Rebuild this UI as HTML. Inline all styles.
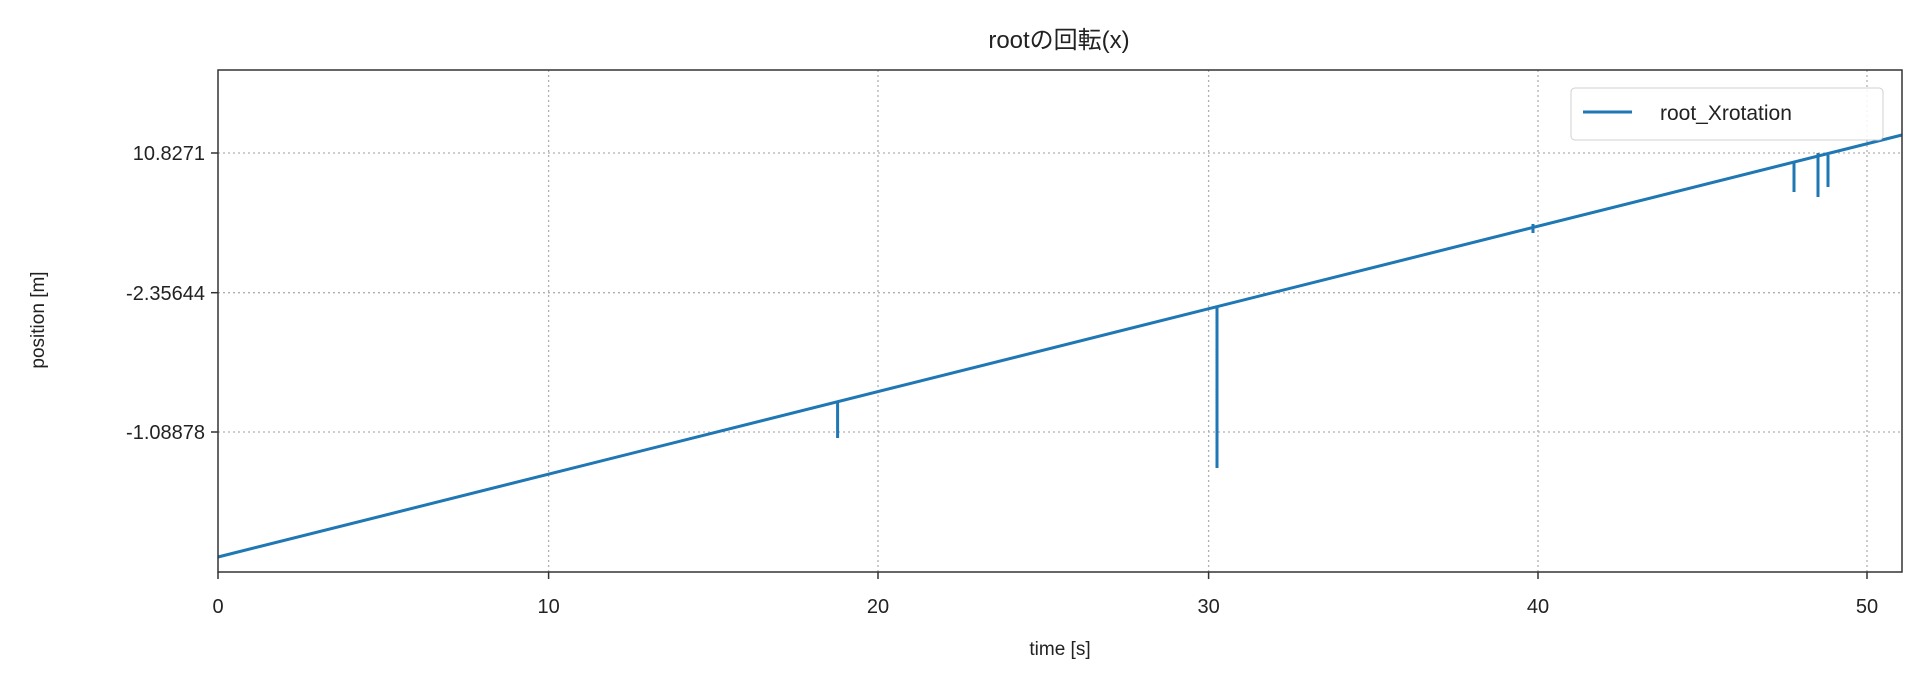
<!DOCTYPE html>
<html><head><meta charset="utf-8"><style>body{margin:0;background:#fff}</style></head><body>
<svg width="1920" height="683" xmlns="http://www.w3.org/2000/svg" font-family="Liberation Sans, Noto Sans CJK JP, sans-serif" fill="#222">
<rect width="1920" height="683" fill="#fff"/>
<g stroke="#b0b0b0" stroke-width="1.3" stroke-dasharray="2,3">
<line x1="548.6" y1="70" x2="548.6" y2="572"/><line x1="878" y1="70" x2="878" y2="572"/><line x1="1208.6" y1="70" x2="1208.6" y2="572"/><line x1="1538" y1="70" x2="1538" y2="572"/><line x1="1867" y1="70" x2="1867" y2="572"/>
<line x1="218" y1="153" x2="1902" y2="153"/><line x1="218" y1="292.7" x2="1902" y2="292.7"/><line x1="218" y1="432" x2="1902" y2="432"/>
</g>
<g stroke="#1f77b4" stroke-width="3" fill="none">
<line x1="218" y1="557" x2="1902" y2="135"/>
<line x1="837.6" y1="402" x2="837.6" y2="438"/>
<line x1="1217" y1="307" x2="1217" y2="468"/>
<line x1="1533" y1="224" x2="1533" y2="233"/>
<line x1="1794" y1="163" x2="1794" y2="192"/>
<line x1="1818" y1="153" x2="1818" y2="197"/>
<line x1="1828" y1="155" x2="1828" y2="187"/>
</g>
<rect x="218" y="70" width="1684" height="502" fill="none" stroke="#333" stroke-width="1.5"/>
<g stroke="#333" stroke-width="1.5">
<line x1="218" y1="572" x2="218" y2="579"/><line x1="548.6" y1="572" x2="548.6" y2="579"/><line x1="878" y1="572" x2="878" y2="579"/><line x1="1208.6" y1="572" x2="1208.6" y2="579"/><line x1="1538" y1="572" x2="1538" y2="579"/><line x1="1867" y1="572" x2="1867" y2="579"/>
<line x1="211" y1="153" x2="218" y2="153"/><line x1="211" y1="292.7" x2="218" y2="292.7"/><line x1="211" y1="432" x2="218" y2="432"/>
</g>
<g font-size="20" text-anchor="middle">
<text x="218" y="613">0</text><text x="548.6" y="613">10</text><text x="878" y="613">20</text><text x="1208.6" y="613">30</text><text x="1538" y="613">40</text><text x="1867" y="613">50</text>
</g>
<g font-size="20" text-anchor="end">
<text x="205" y="160">10.8271</text><text x="205" y="300">-2.35644</text><text x="205" y="439">-1.08878</text>
</g>
<text x="1059" y="48" font-size="24" text-anchor="middle">rootの回転(x)</text>
<text x="1060" y="655" font-size="19" text-anchor="middle">time [s]</text>
<text transform="translate(44,320) rotate(-90)" font-size="19" text-anchor="middle">position [m]</text>
<rect x="1571" y="88" width="312" height="52" rx="4" fill="#fff" fill-opacity="0.85" stroke="#d0d0d0"/>
<line x1="1583" y1="112" x2="1632" y2="112" stroke="#1f77b4" stroke-width="3"/>
<text x="1660" y="120" font-size="21">root_Xrotation</text>
</svg>
</body></html>
